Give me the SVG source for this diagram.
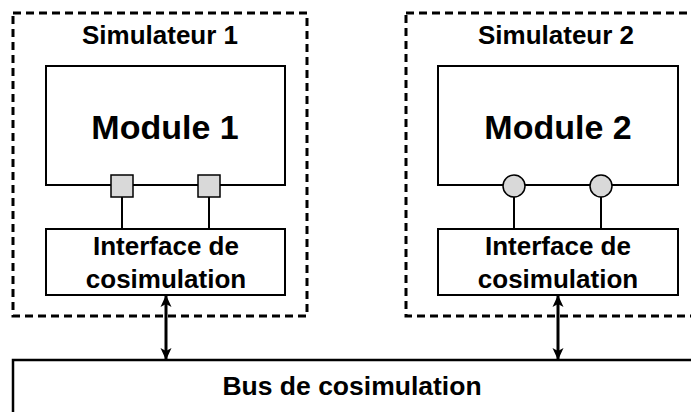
<svg xmlns="http://www.w3.org/2000/svg" width="691" height="412" viewBox="0 0 691 412">
<style>
.dash{fill:none;stroke:#000;stroke-width:3;stroke-dasharray:8 5}
.box{fill:#fff;stroke:#000;stroke-width:2}
.port{fill:#d9d9d9;stroke:#000;stroke-width:1.5}
.t{font-family:"Liberation Sans",Arial,sans-serif;font-weight:bold;text-anchor:middle;fill:#000}
.ln{stroke:#000;stroke-width:2;fill:none}
.arr{stroke:#000;stroke-width:3;fill:none;marker-start:url(#ah);marker-end:url(#ah)}
</style>
<defs>
<marker id="ah" viewBox="0 0 12 12" refX="11" refY="6" markerWidth="12" markerHeight="12" markerUnits="userSpaceOnUse" orient="auto-start-reverse">
<path d="M0,0.5 L12,6 L0,11.5 L3,6 Z" fill="#000"/>
</marker>
</defs>
<g id="sim1">
<rect class="dash" x="13" y="13" width="294" height="303"/>
<text class="t" x="160" y="44" font-size="26">Simulateur 1</text>
</g>
<g id="sim2">
<rect class="dash" x="406" y="13" width="300" height="303"/>
<text class="t" x="556" y="44" font-size="26">Simulateur 2</text>
</g>
<g id="bus">
<rect x="13" y="360" width="700" height="70" fill="#fff" stroke="#000" stroke-width="2.5"/>
<text class="t" x="352" y="395" font-size="26.5">Bus de cosimulation</text>
</g>
<g id="connectors">
<line class="ln" x1="122" y1="197" x2="122" y2="229"/>
<line class="ln" x1="209" y1="197" x2="209" y2="229"/>
<line class="ln" x1="514" y1="197" x2="514" y2="229"/>
<line class="ln" x1="601" y1="197" x2="601" y2="229"/>
<line class="arr" x1="166" y1="296" x2="166" y2="359"/>
<line class="arr" x1="558" y1="296" x2="558" y2="359"/>
</g>
<g id="module1">
<rect class="box" x="46" y="66" width="239" height="119"/>
<text class="t" x="165" y="139" font-size="34">Module 1</text>
<rect class="port" x="111" y="175" width="22" height="22"/>
<rect class="port" x="198" y="175" width="22" height="22"/>
</g>
<g id="module2">
<rect class="box" x="438" y="66" width="240" height="119"/>
<text class="t" x="558" y="139" font-size="34">Module 2</text>
<circle class="port" cx="514" cy="186" r="11"/>
<circle class="port" cx="601" cy="186" r="11"/>
</g>
<g id="iface1">
<rect class="box" x="46" y="229" width="239" height="66"/>
<text class="t" x="166" y="255" font-size="26">Interface de</text>
<text class="t" x="166" y="288" font-size="26">cosimulation</text>
</g>
<g id="iface2">
<rect class="box" x="438" y="229" width="240" height="66"/>
<text class="t" x="558" y="255" font-size="26">Interface de</text>
<text class="t" x="558" y="288" font-size="26">cosimulation</text>
</g>
</svg>
